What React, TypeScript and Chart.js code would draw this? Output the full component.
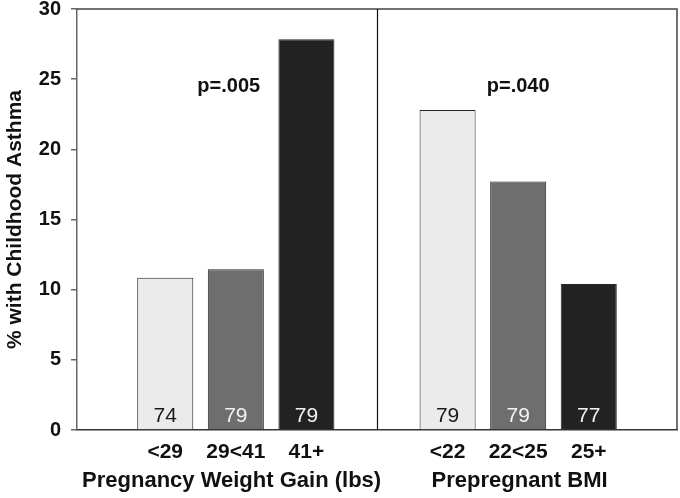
import { useEffect, useRef } from 'react';
import { Chart, registerables } from 'chart.js';

Chart.register(...registerables);

const FONT = '"Liberation Sans", Arial, Helvetica, sans-serif';

const categories = ['<29', '29<41', '41+', '<22', '22<25', '25+'];
const slots = [0, 1, 2, 4, 5, 6];
const values = [10.85, 11.45, 27.85, 22.8, 17.7, 10.4];
const counts = ['74', '79', '79', '79', '79', '77'];
const barColors = ['#ebebeb', '#6e6e6e', '#222222', '#ebebeb', '#6e6e6e', '#222222'];
const countColors = ['#1a1a1a', '#f2f2f2', '#f2f2f2', '#1a1a1a', '#f2f2f2', '#f2f2f2'];
const groupTitles = ['Pregnancy Weight Gain (lbs)', 'Prepregnant BMI'];
const groupCenterSlots = [0.94, 5.02];
const pLabels = ['p=.005', 'p=.040'];
const pSlots = [0.9, 5];
const pLevel = 24.5;
const dividerSlot = 3;
const yTitle = '% with Childhood Asthma';

export default function App() {
  const ref = useRef<HTMLCanvasElement>(null);

  useEffect(() => {
    if (!ref.current) return;
    const overlay = {
      id: 'overlay',
      afterDatasetsDraw(chart: any) {
        const ctx = chart.ctx;
        const { left, right, top, bottom } = chart.chartArea;
        const xs = chart.scales.x;
        const ys = chart.scales.y;
        ctx.save();
        // frame top & right
        ctx.strokeStyle = '#444';
        ctx.lineWidth = 1.5;
        ctx.beginPath();
        ctx.moveTo(left, top);
        ctx.lineTo(right, top);
        ctx.lineTo(right, bottom);
        ctx.stroke();
        // divider
        const dx = Math.round(xs.getPixelForValue(dividerSlot)) + 0.5;
        ctx.strokeStyle = '#111';
        ctx.lineWidth = 1.2;
        ctx.beginPath();
        ctx.moveTo(dx, top);
        ctx.lineTo(dx, bottom);
        ctx.stroke();
        // counts inside bars
        const meta = chart.getDatasetMeta(0);
        ctx.font = `21px ${FONT}`;
        ctx.textAlign = 'center';
        ctx.textBaseline = 'middle';
        meta.data.forEach((bar: any, i: number) => {
          ctx.fillStyle = countColors[i];
          ctx.fillText(counts[i], bar.x, bottom - 14);
        });
        // p-values
        ctx.font = `bold 20px ${FONT}`;
        ctx.fillStyle = '#111';
        pLabels.forEach((t, i) => {
          ctx.fillText(t, xs.getPixelForValue(pSlots[i]), ys.getPixelForValue(pLevel));
        });
        // group titles
        ctx.font = `bold 22px ${FONT}`;
        groupTitles.forEach((t, i) => {
          ctx.fillText(t, xs.getPixelForValue(groupCenterSlots[i]), 481);
        });
        // y title
        ctx.translate(15, (top + bottom) / 2);
        ctx.rotate(-Math.PI / 2);
        ctx.font = `bold 21px ${FONT}`;
        ctx.fillText(yTitle, 0, 0);
        ctx.restore();
      },
    };

    const chart = new Chart(ref.current, {
      type: 'bar',
      data: {
        datasets: [
          {
            data: slots.map((x, i) => ({ x, y: values[i] })),
            backgroundColor: barColors,
            borderColor: '#262626',
            borderWidth: 1,
            barPercentage: 0.794,
            categoryPercentage: 1,
          },
        ],
      },
      options: {
        animation: false,
        responsive: false,
        maintainAspectRatio: false,
        layout: { padding: { top: 9, right: 3, left: 0, bottom: 0 } },
        plugins: { legend: { display: false }, tooltip: { enabled: false } },
        scales: {
          x: {
            type: 'linear',
            offset: false,
            min: -1.25,
            max: 7.25,
            afterBuildTicks: (s: any) => {
              s.ticks = slots.map((v) => ({ value: v }));
            },
            afterFit: (s: any) => {
              s.height = 68;
              s.paddingLeft = 0;
              s.paddingRight = 0;
            },
            ticks: {
              autoSkip: false,
              maxRotation: 0,
              padding: 10,
              color: '#111',
              font: { family: FONT, size: 21, weight: 'bold' },
              callback: (v: any) => {
                const k = slots.indexOf(Number(v));
                return k >= 0 ? categories[k] : '';
              },
            },
            grid: { display: false, drawTicks: false, offset: false },
            border: { color: '#333', width: 1.5 },
          },
          y: {
            min: 0,
            max: 30,
            afterFit: (s: any) => {
              s.width = 77;
              s.paddingTop = 0;
              s.paddingBottom = 0;
            },
            ticks: {
              stepSize: 5,
              padding: 10,
              color: '#111',
              font: { family: FONT, size: 20, weight: 'bold' },
            },
            grid: { drawOnChartArea: false, tickLength: 6, color: '#666', lineWidth: 1.5 },
            border: { color: '#666', width: 1.5 },
          },
        },
      },
      plugins: [overlay],
    } as any);
    return () => chart.destroy();
  }, []);

  return (
    <div style={{ position: 'absolute', left: 0, top: 0, width: 680, height: 498, background: '#fff' }}>
      <canvas ref={ref} width={680} height={498} style={{ display: 'block' }} />
    </div>
  );
}
